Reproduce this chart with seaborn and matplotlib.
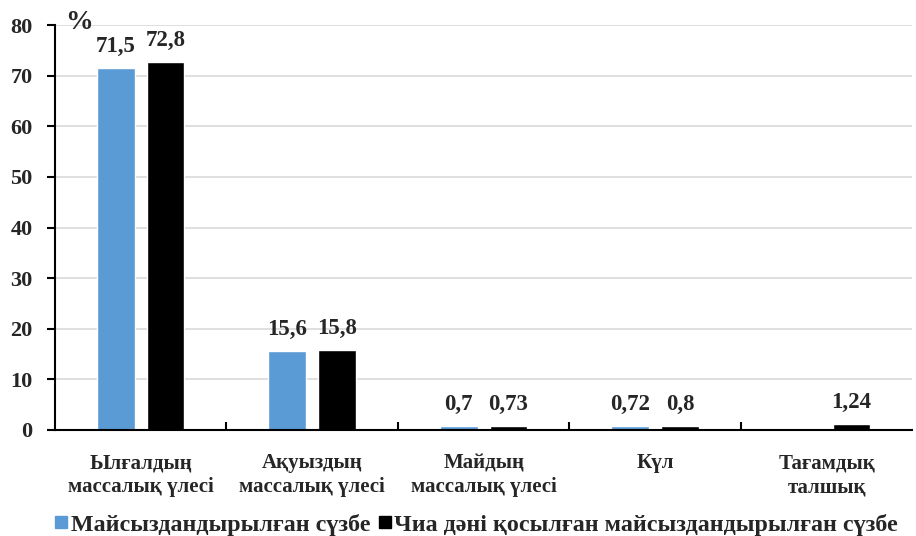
import numpy as np
import pandas as pd
import matplotlib
matplotlib.use("Agg")
import matplotlib.pyplot as plt
import seaborn as sns
from matplotlib.lines import Line2D

categories = ["Ылғалдың\nмассалық үлесі", "Ақуыздың\nмассалық үлесі",
              "Майдың\nмассалық үлесі", "Күл", "Тағамдық\nталшық"]
series_names = ["Майсыздандырылған сүзбе",
                "Чиа дәні қосылған майсыздандырылған сүзбе"]
values_plain = [71.5, 15.6, 0.7, 0.72, np.nan]
values_chia = [72.8, 15.8, 0.73, 0.8, 1.24]
colors = ["#5B9BD5", "#000000"]

sns.set_theme(style="white")
plt.rcParams["font.family"] = ["Liberation Serif", "DejaVu Serif"]
plt.rcParams["font.weight"] = "bold"

df = pd.DataFrame({
    "cat": categories * 2,
    "series": [series_names[0]] * 5 + [series_names[1]] * 5,
    "value": values_plain + values_chia,
}).dropna()

fig = plt.figure(figsize=(9.16, 5.36), dpi=100)
ax = fig.add_axes([0.060, 0.198, 0.936, 0.755])

sns.barplot(data=df, x="cat", y="value", hue="series", order=categories,
            hue_order=series_names, palette=colors, width=0.58, gap=0.24,
            saturation=1, legend=False, ax=ax)

for cont in ax.containers:
    labs = [f"{v:g}".replace(".", ",") for v in cont.datavalues]
    ax.bar_label(cont, labels=labs, padding=8, fontsize=16.5, fontweight="bold")

ax.set_ylim(0, 80)
ax.set_xlim(-0.5, 4.5)
ax.set_yticks(range(0, 81, 10))
ax.yaxis.grid(True, color="#d9d9d9", linewidth=1.2)
ax.set_axisbelow(True)
ax.set_xlabel("")
ax.set_ylabel("")

for s in ["top", "right"]:
    ax.spines[s].set_visible(False)
for s in ["left", "bottom"]:
    ax.spines[s].set_color("black")
    ax.spines[s].set_linewidth(1.5)

ax.tick_params(axis="y", which="major", left=True, direction="out",
               length=6, width=1.5, color="black", labelsize=16, pad=10)
for t in ax.get_yticklabels():
    t.set_fontweight("bold")

# category separators on the x axis
ax.set_xticks([0.5, 1.5, 2.5, 3.5], minor=True)
ax.tick_params(axis="x", which="minor", bottom=True, direction="in",
               length=6, width=1.5, color="black")
ax.tick_params(axis="x", which="major", bottom=False, labelsize=15, pad=11)
for t in ax.get_xticklabels():
    t.set_fontweight("bold")
    t.set_linespacing(1.25)

ax.text(0.012, 80.6, "%", fontsize=20, fontweight="bold", ha="left", va="center",
        transform=ax.get_yaxis_transform())

handles = [Line2D([], [], marker="s", linestyle="", markersize=9,
                  markerfacecolor=c, markeredgecolor=c) for c in colors]
fig.legend(handles, series_names, loc="lower center", bbox_to_anchor=(0.519, -0.04),
           ncol=2, frameon=False, prop={"size": 17.3, "weight": "bold"},
           handletextpad=0.05, columnspacing=0.25, handlelength=0.7)

fig.savefig("out.png", dpi=100)
